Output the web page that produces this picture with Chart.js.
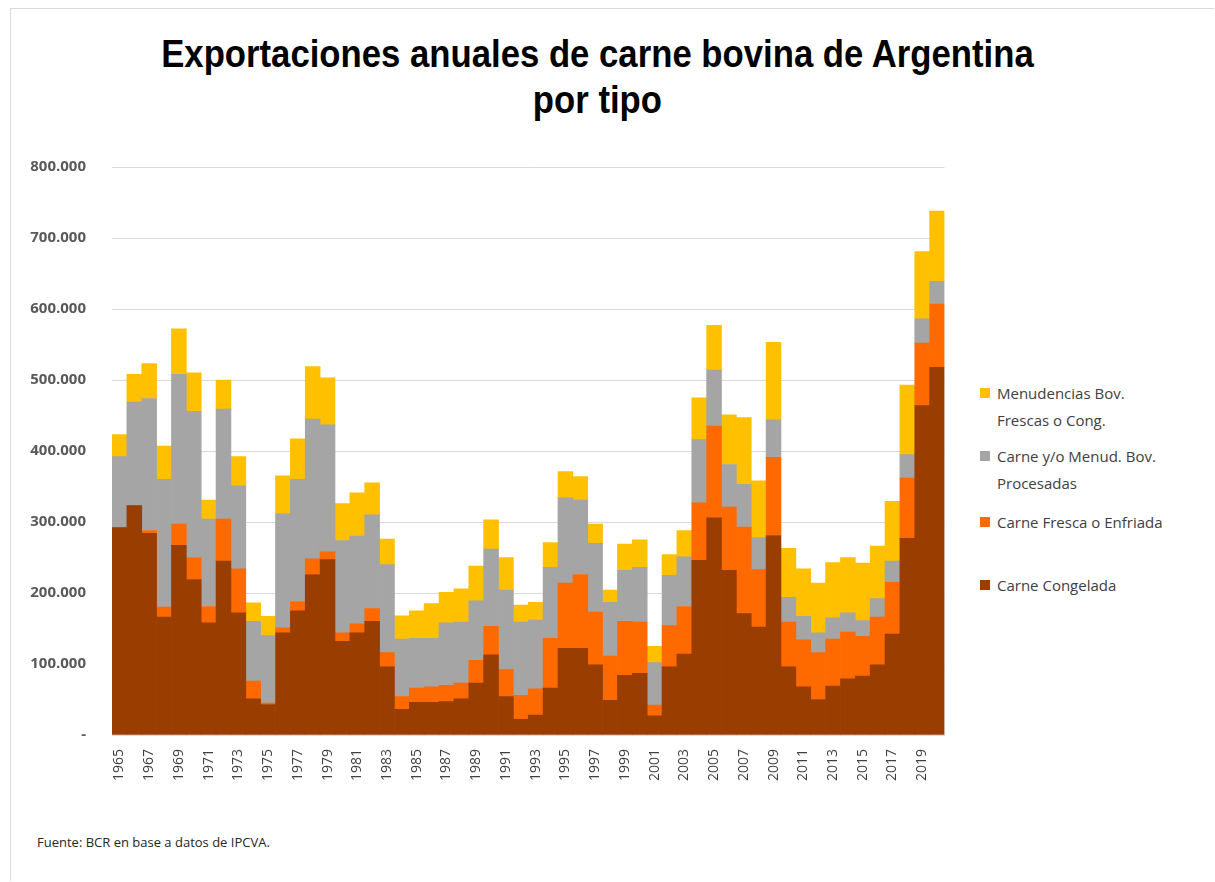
<!DOCTYPE html>
<html>
<head>
<meta charset="utf-8">
<script src="https://cdn.jsdelivr.net/npm/chart.js@4/dist/chart.umd.min.js"></script>
<style>
  body { margin: 0; background: #fff; }
  #wrap { position: relative; width: 1215px; height: 882px; overflow: hidden; }
  #frame { position: absolute; left: 10px; top: 8px; width: 1203px; height: 872px; border-left: 1px solid #d9d9d9; border-top: 1px solid #d9d9d9; }
  #title { position: absolute; left: 0; top: 31px; width: 1195px; text-align: center;
    font-family: "Liberation Sans", sans-serif; font-weight: bold;
    font-size: 39px; line-height: 46px; color: #000; transform: scaleX(0.89); transform-origin: 597px 0; }
  #box { position: absolute; left: 0; top: 132px; width: 960px; height: 698px; }
  .leg { position: absolute; left: 980px; font-family: "Open Sans", sans-serif; font-size: 15px; line-height: 27px; color: #404040; }
  .leg span.sq { position: absolute; left: 0; top: 8px; width: 10px; height: 10px; }
  .leg div { padding-left: 17px; }
  #src { position: absolute; left: 37px; top: 833px; font-family: "Open Sans", sans-serif; font-size: 13px; color: #262626; }
</style>
</head>
<body>
<div id="wrap">
  <div id="frame"></div>
  <div id="title">Exportaciones anuales de carne bovina de Argentina<br>por tipo</div>
  <div id="box"><canvas id="chart"></canvas></div>
  <div id="legend"></div>
  <div id="src">Fuente: BCR en base a datos de IPCVA.</div>
</div>
<script>
const years = [];
for (let y = 1965; y <= 2020; y++) years.push(String(y));

// toneladas (en miles)
const congelada = [292, 323, 284, 166, 267, 219, 158, 245, 172, 51, 43, 144, 175, 226, 247, 132, 144, 160, 96, 36,
  46, 46, 47, 51, 73, 113, 54, 22, 28, 66, 122, 122, 99, 49, 84, 87, 27, 96, 114, 246,
  306, 232, 171, 152, 281, 96, 68, 50, 69, 79, 83, 99, 142, 277, 464, 518];
const fresca = [0, 0, 4, 14, 30, 31, 23, 59, 62, 25, 2, 7, 13, 22, 11, 12, 13, 18, 20, 18,
  20, 22, 23, 22, 32, 40, 38, 34, 37, 70, 92, 104, 74, 62, 76, 72, 15, 58, 67, 81,
  129, 89, 122, 81, 110, 63, 66, 66, 66, 66, 56, 67, 73, 85, 88, 89];
const procesadas = [100, 146, 186, 180, 211, 206, 123, 155, 117, 84, 95, 161, 172, 197, 179, 130, 123, 132, 124, 81,
  70, 68, 88, 86, 84, 109, 112, 103, 97, 100, 120, 105, 97, 76, 72, 77, 60, 71, 70, 89,
  79, 60, 60, 45, 53, 35, 33, 28, 30, 27, 22, 26, 30, 33, 34, 32];
const menudencias = [31, 39, 49, 47, 64, 54, 27, 41, 41, 26, 27, 53, 57, 74, 66, 52, 61, 45, 36, 33,
  39, 49, 43, 47, 49, 41, 46, 24, 25, 35, 37, 33, 27, 17, 37, 39, 23, 29, 37, 59,
  63, 70, 94, 80, 109, 69, 67, 70, 78, 78, 81, 74, 84, 98, 95, 99];

const seriesNames = ["Carne Congelada", "Carne Fresca o Enfriada", "Carne y/o Menud. Bov. Procesadas", "Menudencias Bov. Frescas o Cong."];
const seriesColors = ["#993D00", "#FF6A00", "#A5A5A5", "#FFC000"];
const seriesData = [congelada, fresca, procesadas, menudencias];

const datasets = seriesData.map((d, i) => ({
  label: seriesNames[i],
  data: d.map(v => v * 1000),
  backgroundColor: seriesColors[i],
  borderWidth: 0,
  categoryPercentage: 1,
  barPercentage: 1
}));

// leyenda a la derecha
const legendItems = [
  { lines: ["Menudencias Bov.", "Frescas o Cong."], color: seriesColors[3], top: 380 },
  { lines: ["Carne y/o Menud. Bov.", "Procesadas"], color: seriesColors[2], top: 443 },
  { lines: ["Carne Fresca o Enfriada"], color: seriesColors[1], top: 509 },
  { lines: ["Carne Congelada"], color: seriesColors[0], top: 572 }
];
const legendEl = document.getElementById("legend");
legendItems.forEach(it => {
  const el = document.createElement("div");
  el.className = "leg";
  el.style.top = it.top + "px";
  el.innerHTML = '<span class="sq" style="background:' + it.color + '"></span><div>' + it.lines.join("<br>") + "</div>";
  legendEl.appendChild(el);
});

new Chart(document.getElementById("chart"), {
  type: "bar",
  data: { labels: years, datasets: datasets },
  options: {
    responsive: true,
    maintainAspectRatio: false,
    animation: false,
    layout: { padding: { left: 0, right: 15, top: 15, bottom: 0 } },
    plugins: { legend: { display: false }, tooltip: { enabled: false } },
    scales: {
      x: {
        stacked: true,
        grid: { display: false },
        border: { color: "#d9d9d9" },
        afterFit: s => { s.height = 95; },
        ticks: {
          autoSkip: false,
          minRotation: 90,
          maxRotation: 90,
          padding: 6,
          color: "#404040",
          font: { family: "Open Sans", size: 14 },
          callback: function (v, i) { return i % 2 === 0 ? this.getLabelForValue(v) : ""; }
        }
      },
      y: {
        stacked: true,
        min: 0,
        max: 800000,
        border: { display: false },
        grid: { color: "#d9d9d9", drawTicks: false },
        afterFit: s => { s.width = 112; },
        ticks: {
          stepSize: 100000,
          padding: 26,
          color: "#595959",
          font: { family: "Open Sans", size: 15, weight: "bold" },
          callback: v => v === 0 ? "-" : v.toLocaleString("de-DE")
        }
      }
    }
  }
});
</script>
</body>
</html>
